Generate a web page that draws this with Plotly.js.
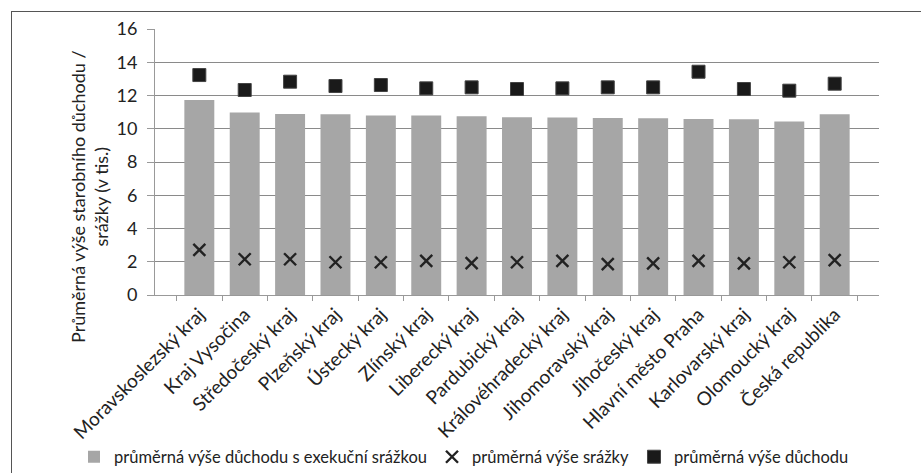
<!DOCTYPE html>
<html><head><meta charset="utf-8">
<script src="https://cdn.plot.ly/plotly-3.0.1.min.js"></script>
<style>
html,body{margin:0;padding:0;background:#fff;}
#frame{position:absolute;left:11px;top:11px;width:940px;height:500px;border-left:1.5px solid #555;border-top:1.5px solid #555;pointer-events:none;z-index:5;}
#chart{position:absolute;left:0;top:0;width:921px;height:473px;}
</style></head>
<body>
<div id="chart"></div>
<div id="frame"></div>
<script>
const categories = ["Moravskoslezský kraj","Kraj Vysočina","Středočeský kraj","Plzeňský kraj","Ústecký kraj","Zlínský kraj","Liberecký kraj","Pardubický kraj","Královéhradecký kraj","Jihomoravský kraj","Jihočeský kraj","Hlavní město Praha","Karlovarský kraj","Olomoucký kraj","Česká republika"];
const pensionAfterDeduction = [11.73,10.97,10.89,10.87,10.79,10.79,10.75,10.69,10.67,10.65,10.63,10.59,10.57,10.43,10.87];
const deduction = [2.71,2.15,2.15,1.97,1.97,2.05,1.92,1.97,2.05,1.86,1.90,2.05,1.90,1.97,2.10];
const pension = [13.23,12.33,12.83,12.57,12.63,12.43,12.49,12.39,12.43,12.49,12.49,13.43,12.39,12.29,12.71];
const seriesNames = ["průměrná výše důchodu s exekuční srážkou","průměrná výše srážky","průměrná výše důchodu"];
const yTitle = "Průměrná výše starobního důchodu /<br>srážky (v tis.)";

const font = "Lato, 'Open Sans', 'DejaVu Sans', sans-serif";
const traces = [
 {type:'bar', x:categories, y:pensionAfterDeduction, name:seriesNames[0], marker:{color:'#a6a6a6'}},
 {type:'scatter', mode:'markers', x:categories, y:deduction, name:seriesNames[1], marker:{symbol:'x-thin-open', size:12, color:'#222', line:{width:2.4, color:'#222'}}},
 {type:'scatter', mode:'markers', x:categories, y:pension, name:seriesNames[2], marker:{symbol:'square', size:13, color:'#1a1a1a', line:{width:1, color:'#444'}}}
];
const layout = {
 width:921, height:473,
 margin:{l:155, r:42, t:29, b:178, autoexpand:false},
 paper_bgcolor:'#fff', plot_bgcolor:'#fff',
 font:{family:font, color:'#222', size:14},
 bargap:0.34,
 showlegend:true,
 legend:{orientation:'h', x:(74-155)/724, xanchor:'left', y:(295-457)/266, yanchor:'middle', font:{size:16.5, color:'#222'}, itemwidth:30, tracegroupgap:0, traceorder:'normal'},
 xaxis:{type:'category', tickangle:-45, tickfont:{size:19, color:'#222'}, showline:true, linecolor:'#999', linewidth:1, ticks:'outside', tickson:'boundaries', ticklen:5, tickcolor:'#999', showgrid:false, automargin:false},
 yaxis:{range:[0,16], dtick:2, tickfont:{size:18, color:'#222'}, showline:true, linecolor:'#999', linewidth:1, ticks:'outside', ticklen:7, tickcolor:'#999', ticklabelstandoff:6, gridcolor:'#8a8a8a', gridwidth:1, zeroline:false, automargin:false},
 annotations:[{text:yTitle, xref:'paper', yref:'paper', x:(89-155)/724, xanchor:'center', y:(295-197)/266, yanchor:'middle', textangle:-90, showarrow:false, font:{size:18, color:'#222'}}]
};
Plotly.newPlot('chart', traces, layout, {displayModeBar:false, staticPlot:true});
</script>
</body></html>
